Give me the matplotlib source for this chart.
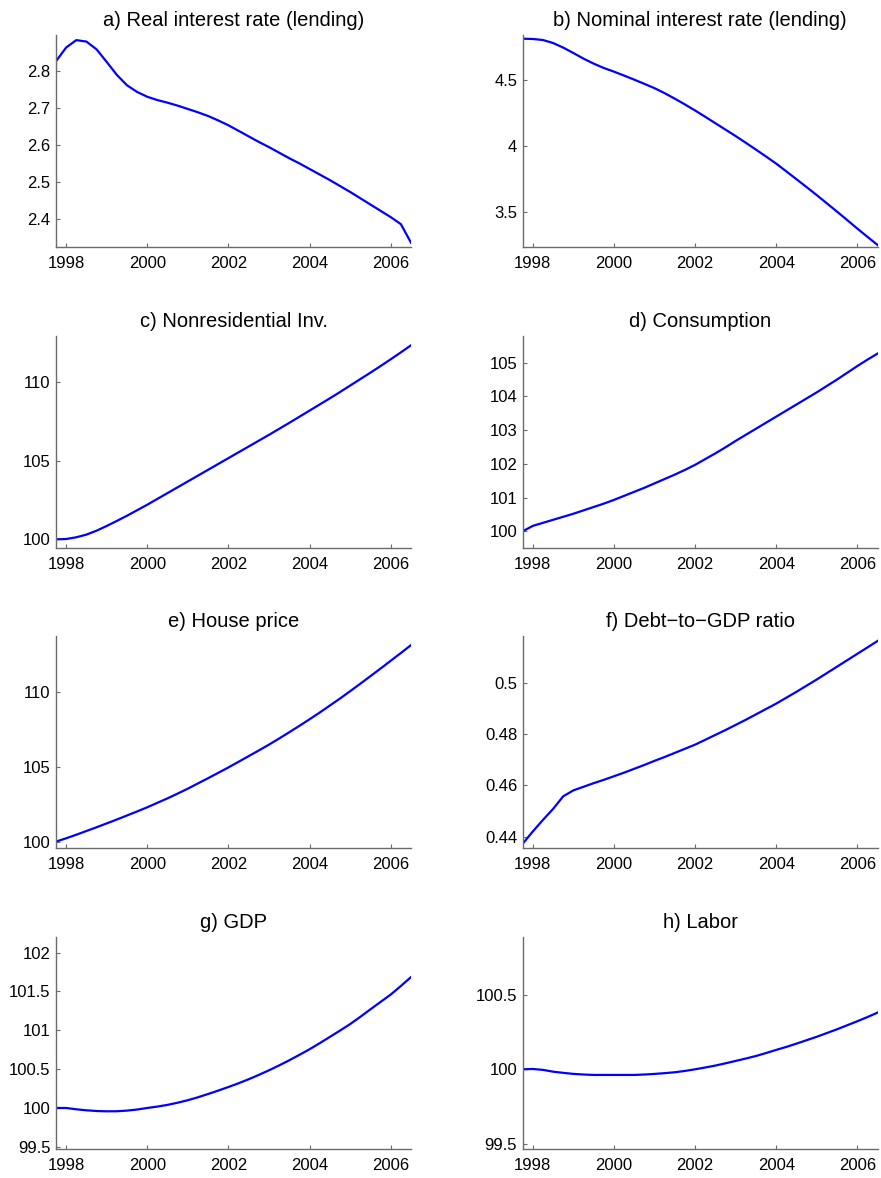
import matplotlib
matplotlib.use("Agg")
import matplotlib.pyplot as plt
from matplotlib.ticker import FormatStrFormatter

plt.rcParams['font.family'] = ['Liberation Sans', 'DejaVu Sans']

# quarterly dates, 1997Q4 .. 2006Q3
quarters = [1997.75, 1998.0, 1998.25, 1998.5, 1998.75, 1999.0, 1999.25, 1999.5, 1999.75,
            2000.0, 2000.25, 2000.5, 2000.75, 2001.0, 2001.25, 2001.5, 2001.75,
            2002.0, 2002.25, 2002.5, 2002.75, 2003.0, 2003.25, 2003.5, 2003.75,
            2004.0, 2004.25, 2004.5, 2004.75, 2005.0, 2005.25, 2005.5, 2005.75,
            2006.0, 2006.25, 2006.5]

real_rate = [2.827, 2.864, 2.884, 2.880, 2.859, 2.825, 2.790, 2.762, 2.744,
             2.731, 2.722, 2.715, 2.707, 2.698, 2.689, 2.679, 2.667,
             2.654, 2.639, 2.624, 2.609, 2.595, 2.580, 2.565, 2.551,
             2.536, 2.521, 2.506, 2.490, 2.474, 2.457, 2.440, 2.423,
             2.406, 2.387, 2.337]

nominal_rate = [4.817, 4.815, 4.807, 4.784, 4.749, 4.708, 4.665, 4.627, 4.594,
                4.566, 4.536, 4.505, 4.473, 4.440, 4.402, 4.360, 4.316,
                4.270, 4.222, 4.173, 4.124, 4.075, 4.024, 3.972, 3.919,
                3.865, 3.806, 3.746, 3.686, 3.625, 3.562, 3.499, 3.435,
                3.370, 3.307, 3.245]

nonres_inv = [100.00, 100.02, 100.13, 100.30, 100.55, 100.85, 101.17, 101.50, 101.85,
              102.20, 102.57, 102.94, 103.31, 103.68, 104.05, 104.42, 104.79,
              105.16, 105.53, 105.90, 106.27, 106.64, 107.02, 107.40, 107.79,
              108.18, 108.57, 108.96, 109.36, 109.77, 110.18, 110.59, 111.01,
              111.44, 111.88, 112.33]

consumption = [100.00, 100.16, 100.25, 100.34, 100.43, 100.52, 100.62, 100.72, 100.82,
               100.93, 101.05, 101.17, 101.29, 101.42, 101.55, 101.68, 101.82,
               101.97, 102.14, 102.31, 102.49, 102.68, 102.86, 103.04, 103.22,
               103.40, 103.58, 103.76, 103.94, 104.12, 104.31, 104.50, 104.70,
               104.90, 105.09, 105.27]

house_price = [100.00, 100.22, 100.46, 100.71, 100.96, 101.22, 101.48, 101.75, 102.02,
               102.30, 102.60, 102.90, 103.22, 103.55, 103.90, 104.25, 104.61,
               104.97, 105.35, 105.73, 106.11, 106.50, 106.91, 107.33, 107.76,
               108.20, 108.65, 109.12, 109.59, 110.08, 110.58, 111.09, 111.60,
               112.12, 112.64, 113.17]

debt_gdp = [0.4372, 0.4420, 0.4465, 0.4508, 0.4557, 0.4580, 0.4594, 0.4608, 0.4621,
            0.4635, 0.4649, 0.4664, 0.4679, 0.4695, 0.4710, 0.4726, 0.4742,
            0.4758, 0.4777, 0.4796, 0.4815, 0.4835, 0.4855, 0.4876, 0.4897,
            0.4918, 0.4941, 0.4964, 0.4988, 0.5012, 0.5037, 0.5062, 0.5087,
            0.5112, 0.5137, 0.5162]

gdp = [100.000, 100.000, 99.983, 99.970, 99.961, 99.957, 99.958, 99.966, 99.980,
       100.000, 100.018, 100.040, 100.068, 100.100, 100.138, 100.180, 100.224,
       100.270, 100.318, 100.370, 100.426, 100.485, 100.548, 100.614, 100.684,
       100.756, 100.834, 100.915, 100.996, 101.080, 101.173, 101.270, 101.365,
       101.460, 101.570, 101.685]

labor = [100.000, 100.002, 99.996, 99.984, 99.976, 99.969, 99.965, 99.962, 99.962,
         99.962, 99.962, 99.962, 99.965, 99.969, 99.974, 99.980, 99.989,
         100.000, 100.012, 100.025, 100.040, 100.056, 100.072, 100.089, 100.109,
         100.130, 100.150, 100.172, 100.195, 100.218, 100.243, 100.268, 100.295,
         100.322, 100.350, 100.380]

titles = ["a) Real interest rate (lending)", "b) Nominal interest rate (lending)",
          "c) Nonresidential Inv.", "d) Consumption",
          "e) House price", "f) Debt\u2212to\u2212GDP ratio",
          "g) GDP", "h) Labor"]
series = [real_rate, nominal_rate, nonres_inv, consumption,
          house_price, debt_gdp, gdp, labor]
y_limits = [(2.3245, 2.897), (3.228, 4.843), (99.43, 112.9), (99.495, 105.78),
            (99.55, 113.76), (0.43543, 0.518), (99.468, 102.197), (99.464, 100.884)]
y_ticks = [[2.4, 2.5, 2.6, 2.7, 2.8], [3.5, 4, 4.5], [100, 105, 110],
           [100, 101, 102, 103, 104, 105], [100, 105, 110], [0.44, 0.46, 0.48, 0.5],
           [99.5, 100, 100.5, 101, 101.5, 102], [99.5, 100, 100.5]]
year_ticks = [1998, 2000, 2002, 2004, 2006]

W, H = 881, 1178
fig = plt.figure(figsize=(W / 100, H / 100), dpi=100)

col_left = [56, 522.7]
row_bottom = [247.3, 548.3, 848.3, 1149.3]
ax_w, ax_h = 355, 212

for i in range(8):
    r, c = divmod(i, 2)
    ax = fig.add_axes([col_left[c] / W, 1 - row_bottom[r] / H, ax_w / W, ax_h / H])
    ax.plot(quarters, series[i], color=(0, 0, 1), lw=1.6)
    ax.set_xlim(quarters[0], quarters[-1])
    ax.set_ylim(*y_limits[i])
    ax.set_xticks(year_ticks)
    ax.set_yticks(y_ticks[i])
    ax.yaxis.set_major_formatter(FormatStrFormatter('%g'))
    ax.set_title(titles[i], fontsize=14.5, pad=7)
    for side in ['top', 'right']:
        ax.spines[side].set_visible(False)
    for side in ['left', 'bottom']:
        ax.spines[side].set_color('0.42')
        ax.spines[side].set_linewidth(1.0)
    ax.tick_params(direction='in', length=3, width=0.8, color='0.42',
                   labelsize=12, labelcolor='black')
    ax.tick_params(axis='x', pad=6)
    ax.tick_params(axis='y', pad=4)

fig.savefig("out.png", dpi=100)
